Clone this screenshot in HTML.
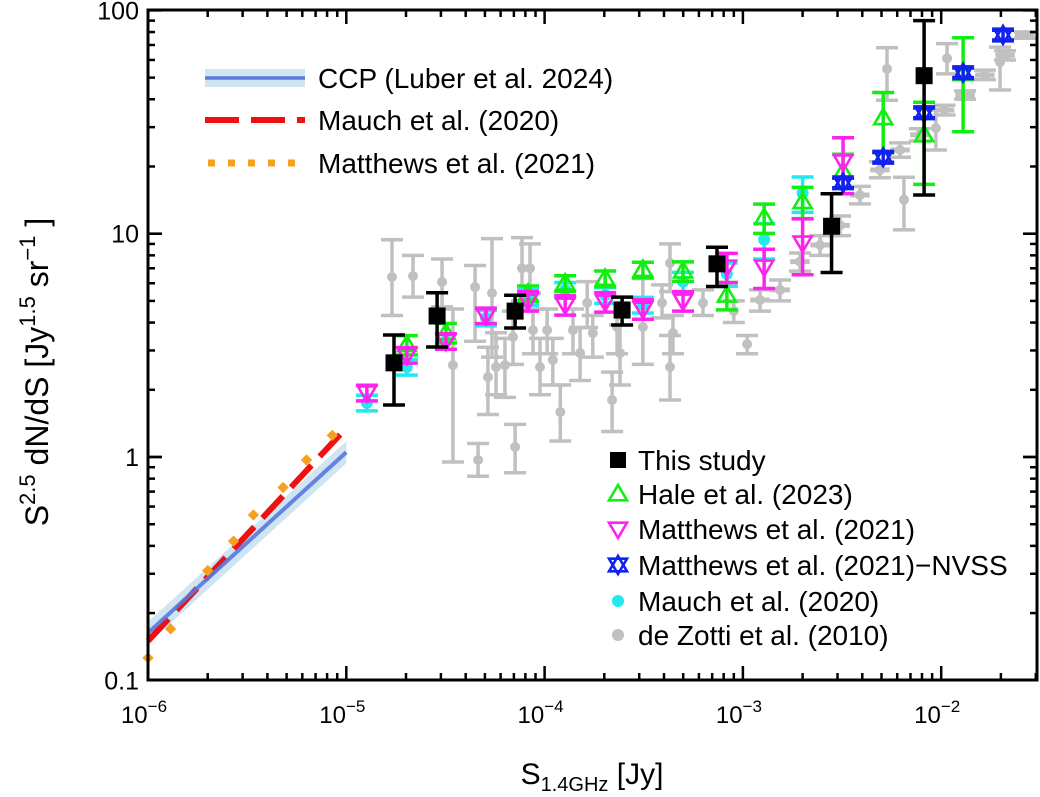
<!DOCTYPE html>
<html><head><meta charset="utf-8"><style>
html,body{margin:0;padding:0;background:#fff;}
svg{display:block;font-family:"Liberation Sans",sans-serif;}
</style></head><body>
<svg id="chart" width="1040" height="797" viewBox="0 0 1040 797">
<g id="bands"></g>
<g id="gray"></g>
<g id="series"></g>
<g id="axes"></g>
<g id="legend1"></g>
<g id="legend2"></g>
</svg>
<script>
// ---- data ----
const ccpX = [1e-6, 1e-5];
const ccpY = [0.163, 1.05];
const mauchLineX = [1e-6, 1e-5];
const mauchLineY = [0.15, 1.35];
const matthewsLineX = [1e-6, 1.3e-6, 2e-6, 2.7e-6, 3.4e-6, 4.8e-6, 6.3e-6, 8.5e-6];
const matthewsLineY = [0.126, 0.17, 0.31, 0.42, 0.55, 0.73, 0.97, 1.25];

const thisX = [1.74e-5, 2.87e-5, 7.1e-5, 2.46e-4, 7.4e-4, 2.8e-3, 8.2e-3];
const thisY = [2.64, 4.28, 4.5, 4.55, 7.33, 10.8, 51];
const thisLo = [1.71, 3.11, 3.78, 3.9, 5.8, 6.7, 14.9];
const thisHi = [3.52, 5.44, 5.3, 5.2, 8.7, 15.1, 90];

const haleX = [2.02e-5, 3.18e-5, 8.25e-5, 1.27e-4, 2.02e-4, 3.13e-4, 4.99e-4, 8.3e-4, 1.28e-3, 2.0e-3, 3.2e-3, 5.1e-3, 8.2e-3, 1.29e-2];
const haleY = [3.18, 3.6, 5.4, 6.0, 6.3, 6.9, 6.8, 5.3, 11.8, 13.9, 18.9, 33, 27.7, 52];
const haleErr = [0.1, 0.1, 0.08, 0.08, 0.08, 0.08, 0.1, 0.14, 0.15, 0.16, 0.2, 0.3, 0.4, 0.45];

const matX = [1.27e-5, 2.02e-5, 3.18e-5, 5.06e-5, 8.25e-5, 1.27e-4, 2.02e-4, 3.13e-4, 4.99e-4, 8.3e-4, 1.28e-3, 2.0e-3, 3.2e-3];
const matY = [1.94, 2.86, 3.3, 4.3, 5.0, 4.8, 4.95, 4.6, 5.0, 7.1, 7.1, 9.1, 21];
const matErr = [0.08, 0.08, 0.08, 0.08, 0.1, 0.1, 0.1, 0.1, 0.1, 0.15, 0.2, 0.28, 0.28];

const nvssX = [3.2e-3, 5.1e-3, 8.2e-3, 1.29e-2, 2.05e-2];
const nvssY = [16.9, 22, 34.8, 52.6, 77.6];
const nvssErr = [0.05, 0.05, 0.05, 0.05, 0.05];

const mauchX = [1.27e-5, 2.02e-5, 3.18e-5, 5.06e-5, 8.25e-5, 1.27e-4, 2.02e-4, 3.13e-4, 4.99e-4, 8.3e-4, 1.28e-3, 2.0e-3];
const mauchY = [1.75, 2.53, 3.3, 4.2, 5.2, 5.6, 5.3, 4.8, 6.1, 6.6, 9.4, 15.2];
const mauchErr = [0.08, 0.08, 0.08, 0.08, 0.08, 0.08, 0.08, 0.08, 0.1, 0.12, 0.18, 0.18];

const zotX = [1.7e-5, 2.17e-5, 3.04e-5, 4.46e-5, 5.43e-5, 3.45e-5, 5.18e-5, 5.69e-5, 6.31e-5, 6.93e-5, 7.69e-5, 8.44e-5, 7.1e-5, 4.62e-5, 8.74e-5, 9.48e-5, 1.1e-4, 1.2e-4, 1.03e-4, 1.39e-4, 1.64e-4, 1.51e-4, 1.75e-4, 2.19e-4, 2.4e-4, 2.32e-4, 3.13e-4, 3.91e-4, 4.29e-4, 4.44e-4, 6.29e-4, 4.29e-4,
  1.22e-3, 1.54e-3, 1.94e-3, 2.45e-3, 3.09e-3, 3.89e-3, 4.91e-3, 6.2e-3, 7.8e-3, 1.04e-2, 1.32e-2, 1.66e-2, 2.1e-2, 2.64e-2, 5.33e-3, 6.49e-3, 1.07e-2, 9.4e-3, 1.98e-2, 9.0e-4, 1.05e-3];
const zotY = [6.4, 6.46, 6.08, 5.77, 5.42, 2.58, 2.28, 2.53, 2.58, 3.45, 7.0, 7.0, 1.11, 0.97, 3.7, 2.53, 2.72, 1.59, 3.7, 3.7, 4.9, 2.92, 3.59, 1.8, 2.92, 3.82, 3.82, 4.9, 2.53, 3.59, 4.9, 7.39,
  5.05, 5.6, 7.5, 8.9, 10.9, 14.9, 19.3, 23.7, 27.7, 35.8, 41.8, 51.4, 63, 77.6, 54.7, 14.2, 61, 29.7, 58.7, 4.5, 3.2];
const zotLo = [4.3, 5.2, 4.7, 3.3, 2.8, 0.95, 1.55, 1.9, 1.85, 2.6, 5.0, 5.4, 0.85, 0.82, 2.9, 1.9, 2.1, 1.18, 2.9, 2.9, 3.8, 2.2, 2.8, 1.3, 2.1, 2.9, 2.6, 4.2, 1.8, 2.9, 4.3, 5.5,
  4.5, 5.0, 6.8, 8.0, 9.8, 13.6, 17.8, 22, 26, 34, 40, 49, 60, 75, 39.6, 10.4, 52, 23.7, 44, 4.0, 2.9];
const zotHi = [9.4, 8.0, 7.7, 7.2, 9.5, 4.6, 3.1, 3.6, 3.4, 4.5, 9.6, 9.0, 1.4, 1.15, 4.6, 3.4, 3.4, 2.1, 4.6, 4.6, 6.1, 3.8, 4.3, 2.4, 3.9, 4.9, 6.3, 5.9, 3.5, 4.3, 5.6, 9.0,
  5.6, 6.2, 8.2, 9.8, 12, 16.3, 21, 25.5, 29.5, 37.6, 43.6, 54, 66, 80, 68, 17.9, 71, 35.8, 68.5, 5.0, 3.5];
// horizontal bin half-width factor (1 = none)
const zotXF = [1,1,1,1,1,1,1,1,1,1,1,1,1,1,1,1,1,1,1,1,1,1,1,1,1,1,1,1,1,1,1,1,
  1.12,1.12,1.12,1.12,1.12,1.12,1.12,1.12,1.12,1.12,1.12,1.12,1.12,1.12,1,1,1,1,1,1,1];

// ---- axes ----
const L = 148, R = 1037, T = 10, B = 680;
function X(v){ return L + (Math.log10(v) + 6) * 198.3; }
function Y(v){ return 457 - Math.log10(v) * 223.3; }

const NS = 'http://www.w3.org/2000/svg';
function mk(tag, attrs, parent){
  const e = document.createElementNS(NS, tag);
  for (const k in attrs) e.setAttribute(k, attrs[k]);
  parent.appendChild(e);
  return e;
}

const gBands = document.getElementById('bands');
const gGray = document.getElementById('gray');
const gSer = document.getElementById('series');
const gAx = document.getElementById('axes');

// model lines
const band = mk('polygon', {points: [X(ccpX[0])+','+Y(ccpY[0]*1.12), X(ccpX[1])+','+Y(ccpY[1]*1.12), X(ccpX[1])+','+Y(ccpY[1]/1.12), X(ccpX[0])+','+Y(ccpY[0]/1.12)].join(' '), fill:'#cfe5f1'}, gBands);


const mLine = mk('line', {x1:X(mauchLineX[0]), y1:Y(mauchLineY[0]), x2:X(mauchLineX[1]), y2:Y(mauchLineY[1]), stroke:'#ee1111', 'stroke-width':6, 'stroke-dasharray':'30 12'}, gBands);


const ccpLine = mk('line', {x1:X(ccpX[0]), y1:Y(ccpY[0]), x2:X(ccpX[1]), y2:Y(ccpY[1]), stroke:'#5a78e0', 'stroke-width':4, opacity:0.9}, gBands);


for (let i = 0; i < matthewsLineX.length; i++){
  const cx = X(matthewsLineX[i]), cy = Y(matthewsLineY[i]);
  const d = mk('rect', {x:cx-4, y:cy-4, width:8, height:8, fill:'#f5a020', transform:'rotate(45 '+cx+' '+cy+')'}, gBands);
  
  
}

function errbar(g, x, lo, hi, color, w){
  mk('line', {x1:x, y1:Y(lo), x2:x, y2:Y(hi), stroke:color, 'stroke-width':w}, g);
  mk('line', {x1:x-11, y1:Y(lo), x2:x+11, y2:Y(lo), stroke:color, 'stroke-width':w}, g);
  mk('line', {x1:x-11, y1:Y(hi), x2:x+11, y2:Y(hi), stroke:color, 'stroke-width':w}, g);
}

// gray
for (let i = 0; i < zotX.length; i++){
  const g = mk('g', {}, gGray);
  
  
  const x = X(zotX[i]);
  errbar(g, x, zotLo[i], zotHi[i], '#c0c0c0', 3.5);
  if (zotXF[i] > 1){
    mk('line', {x1:X(zotX[i]/zotXF[i]), y1:Y(zotY[i]), x2:X(zotX[i]*zotXF[i]), y2:Y(zotY[i]), stroke:'#c0c0c0', 'stroke-width':5}, g);
  }
  mk('circle', {cx:x, cy:Y(zotY[i]), r:5, fill:'#c0c0c0'}, g);
}

function tri(g, x, y, up, color){
  const s = 9;
  const pts = up ? [[x,y-s],[x-s,y+s*0.7],[x+s,y+s*0.7]] : [[x,y+s],[x-s,y-s*0.7],[x+s,y-s*0.7]];
  mk('polygon', {points: pts.map(p=>p.join(',')).join(' '), fill:'none', stroke:color, 'stroke-width':2.6}, g);
}

// mauch cyan
for (let i = 0; i < mauchX.length; i++){
  const g = mk('g', {}, gSer);
  
  
  const x = X(mauchX[i]);
  errbar(g, x, mauchY[i]*(1-mauchErr[i]), mauchY[i]*(1+mauchErr[i]), '#22e8f0', 3.5);
  mk('circle', {cx:x, cy:Y(mauchY[i]), r:6, fill:'#22e8f0'}, g);
}
// hale green
for (let i = 0; i < haleX.length; i++){
  const g = mk('g', {}, gSer);
  
  
  const x = X(haleX[i]);
  errbar(g, x, haleY[i]*(1-haleErr[i]), haleY[i]*(1+haleErr[i]), '#11ee11', 3.5);
  tri(g, x, Y(haleY[i]), true, '#11ee11');
}
// matthews magenta
for (let i = 0; i < matX.length; i++){
  const g = mk('g', {}, gSer);
  
  
  const x = X(matX[i]);
  errbar(g, x, matY[i]*(1-matErr[i]), matY[i]*(1+matErr[i]), '#ff22ee', 3.5);
  tri(g, x, Y(matY[i]), false, '#ff22ee');
}
// nvss blue
for (let i = 0; i < nvssX.length; i++){
  const g = mk('g', {}, gSer);
  
  
  const x = X(nvssX[i]);
  errbar(g, x, nvssY[i]*(1-nvssErr[i]), nvssY[i]*(1+nvssErr[i]), '#1122ee', 3.5);
  tri(g, x, Y(nvssY[i]), true, '#1122ee');
  tri(g, x, Y(nvssY[i]), false, '#1122ee');
}
// this study
for (let i = 0; i < thisX.length; i++){
  const g = mk('g', {}, gSer);
  
  
  const x = X(thisX[i]);
  errbar(g, x, thisLo[i], thisHi[i], '#000', 3.5);
  mk('rect', {x:x-8.5, y:Y(thisY[i])-8.5, width:17, height:17, fill:'#000'}, g);
}

// frame & ticks
const frame = mk('rect', {x:L, y:T, width:R-L, height:B-T, fill:'none', stroke:'#000', 'stroke-width':3}, gAx);


const yMajors = [0.1, 1, 10, 100];
const yLabels = ['0.1', '1', '10', '100'];
const xMajors = [1e-6, 1e-5, 1e-4, 1e-3, 1e-2];
const xExp = ['−6', '−5', '−4', '−3', '−2'];
for (let d = -1; d < 2; d++){
  for (let m = 1; m <= 10; m++){
    const v = m * Math.pow(10, d);
    const y = Y(v); if (y < T || y > B) continue;
    const len = (m === 1 || m === 10) ? 14 : 7;
    mk('line', {x1:L, y1:y, x2:L+len, y2:y, stroke:'#000', 'stroke-width':2.5}, gAx);
    mk('line', {x1:R, y1:y, x2:R-len, y2:y, stroke:'#000', 'stroke-width':2.5}, gAx);
  }
}
for (let d = -6; d < -1; d++){
  for (let m = 1; m <= 9; m++){
    const v = m * Math.pow(10, d);
    const x = X(v); if (x < L || x > R) continue;
    const len = m === 1 ? 14 : 7;
    mk('line', {x1:x, y1:B, x2:x, y2:B-len, stroke:'#000', 'stroke-width':2.5}, gAx);
    mk('line', {x1:x, y1:T, x2:x, y2:T+len, stroke:'#000', 'stroke-width':2.5}, gAx);
  }
}
for (let i = 0; i < yMajors.length; i++){
  const t = mk('text', {x:139, y:Y(yMajors[i])+9, 'font-size':25, 'text-anchor':'end', fill:'#000'}, gAx);
  t.textContent = yLabels[i];
  
  
}
for (let i = 0; i < xMajors.length; i++){
  const t = mk('text', {x:X(xMajors[i])-4, y:723, 'font-size':24, 'text-anchor':'middle', fill:'#000'}, gAx);
  
  
  const a = mk('tspan', {}, t); a.textContent = '10';
  const b = mk('tspan', {dy:-11, 'font-size':17}, t); b.textContent = xExp[i];
}
// axis titles
const xt = mk('text', {x:592, y:784, 'font-size':30, 'text-anchor':'middle'}, gAx);


mk('tspan', {}, xt).textContent = 'S';
mk('tspan', {dy:7, 'font-size':20}, xt).textContent = '1.4GHz';
mk('tspan', {dy:-7}, xt).textContent = ' [Jy]';
const yt = mk('text', {x:0, y:0, 'font-size':32, 'text-anchor':'middle', transform:'translate(48 372) rotate(-90)'}, gAx);


mk('tspan', {}, yt).textContent = 'S';
mk('tspan', {dy:-13, 'font-size':22}, yt).textContent = '2.5';
mk('tspan', {dy:13}, yt).textContent = ' dN/dS [Jy';
mk('tspan', {dy:-13, 'font-size':22}, yt).textContent = '1.5';
mk('tspan', {dy:13}, yt).textContent = ' sr';
mk('tspan', {dy:-13, 'font-size':22}, yt).textContent = '−1';
mk('tspan', {dy:13}, yt).textContent = ' ]';

// legend 1
const l1 = document.getElementById('legend1');
const e1 = mk('g', {}, l1);


mk('rect', {x:205, y:69, width:100, height:18, fill:'#cfe5f1'}, e1);
mk('line', {x1:205, y1:78, x2:305, y2:78, stroke:'#5a78e0', 'stroke-width':3.5}, e1);
mk('text', {x:318, y:88, 'font-size':28}, e1).textContent = 'CCP (Luber et al. 2024)';
const e2 = mk('g', {}, l1);


mk('line', {x1:205, y1:120, x2:305, y2:120, stroke:'#ee1111', 'stroke-width':6, 'stroke-dasharray':'34 12'}, e2);
mk('text', {x:318, y:130, 'font-size':28}, e2).textContent = 'Mauch et al. (2020)';
const e3 = mk('g', {}, l1);


mk('line', {x1:208, y1:163, x2:305, y2:163, stroke:'#f5a020', 'stroke-width':7, 'stroke-dasharray':'7 13'}, e3);
mk('text', {x:318, y:173, 'font-size':28}, e3).textContent = 'Matthews et al. (2021)';

// legend 2
const l2 = document.getElementById('legend2');
const labels2 = ['This study', 'Hale et al. (2023)', 'Matthews et al. (2021)', 'Matthews et al. (2021)−NVSS', 'Mauch et al. (2020)', 'de Zotti et al. (2010)'];
const ys2 = [460, 494, 529, 565, 601, 635];
for (let i = 0; i < labels2.length; i++){
  const g = mk('g', {}, l2);
  
  
  const y = ys2[i], x = 618;
  if (i === 0) mk('rect', {x:x-8, y:y-8, width:16, height:16, fill:'#000'}, g);
  if (i === 1) tri(g, x, y, true, '#11ee11');
  if (i === 2) tri(g, x, y, false, '#ff22ee');
  if (i === 3){ tri(g, x, y, true, '#1122ee'); tri(g, x, y, false, '#1122ee'); }
  if (i === 4) mk('circle', {cx:x, cy:y, r:6, fill:'#22e8f0'}, g);
  if (i === 5) mk('circle', {cx:x, cy:y, r:6, fill:'#c0c0c0'}, g);
  mk('text', {x:638, y:y+10, 'font-size':28}, g).textContent = labels2[i];
}
</script>
</body></html>
